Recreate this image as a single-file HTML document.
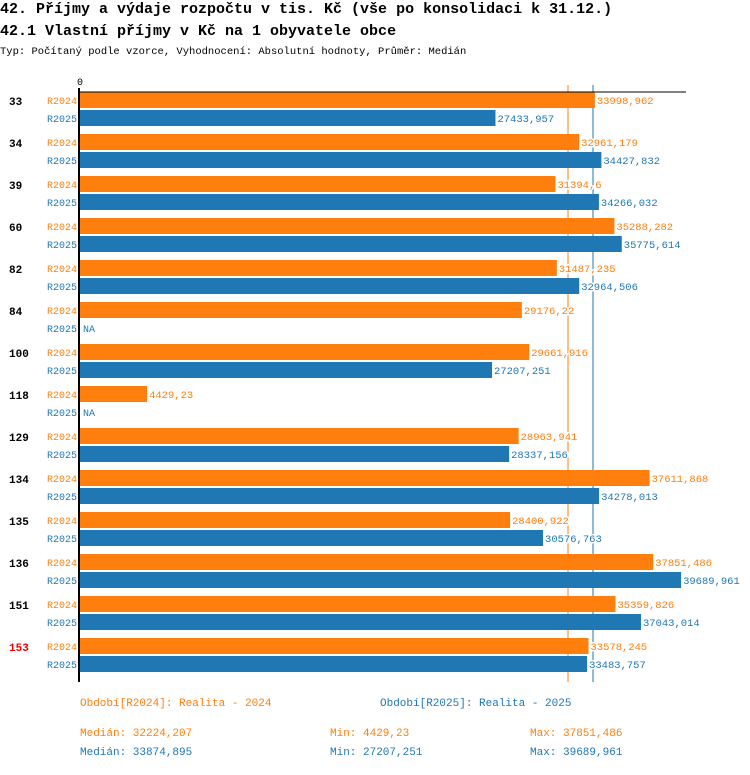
<!DOCTYPE html>
<html><head><meta charset="utf-8"><style>
body{margin:0;background:#fff;width:750px;height:770px;overflow:hidden;font-family:"Liberation Mono",monospace}
text{font-family:"Liberation Mono",monospace}
</style></head><body>
<svg id="chart" width="750" height="770" xmlns="http://www.w3.org/2000/svg">
<text x="0" y="13" font-size="15" font-weight="bold">42. Příjmy a výdaje rozpočtu v tis. Kč (vše po konsolidaci k 31.12.)</text>
<text x="0" y="35" font-size="15" font-weight="bold">42.1 Vlastní příjmy v Kč na 1 obyvatele obce</text>
<text x="0" y="54" font-size="10.5">Typ: Počítaný podle vzorce, Vyhodnocení: Absolutní hodnoty, Průměr: Medián</text>
<text x="77" y="85" font-size="10">0</text>
<g id="bars"></g>
<g id="footer" font-size="11">
<text x="80" y="706" fill="#ff7f0e">Období[R2024]: Realita - 2024</text>
<text x="380" y="706" fill="#1f77b4">Období[R2025]: Realita - 2025</text>
<text x="80" y="736" fill="#ff7f0e">Medián: 32224,207</text>
<text x="330" y="736" fill="#ff7f0e">Min: 4429,23</text>
<text x="530" y="736" fill="#ff7f0e">Max: 37851,486</text>
<text x="80" y="755" fill="#1f77b4">Medián: 33874,895</text>
<text x="330" y="755" fill="#1f77b4">Min: 27207,251</text>
<text x="530" y="755" fill="#1f77b4">Max: 39689,961</text>
</g>
</svg>
<script>
const categories=["33","34","39","60","82","84","100","118","129","134","135","136","151","153"];
const r2024=[33998.962,32961.179,31394.6,35288.282,31487.235,29176.22,29661.916,4429.23,28963.941,37611.868,28400.922,37851.486,35359.826,33578.245];
const r2025=[27433.957,34427.832,34266.032,35775.614,32964.506,null,27207.251,null,28337.156,34278.013,30576.763,39689.961,37043.014,33483.757];
const medians=[32224.207,33874.895];
const highlighted=["153"];
const NS="http://www.w3.org/2000/svg";
const x=v=>80+v*0.015144;
const g=document.getElementById('bars');
function mk(tag,attrs){const e=document.createElementNS(NS,tag);for(const k in attrs)e.setAttribute(k,attrs[k]);g.appendChild(e);return e;}
const fmt=v=>String(v).replace('.',',');
const series=[{vals:r2024,name:"R2024",col:"#ff7f0e"},{vals:r2025,name:"R2025",col:"#1f77b4"}];
medians.forEach((m,j)=>{
  const l=mk('line',{x1:x(m),x2:x(m),y1:85,y2:682,stroke:series[j].col,'stroke-width':1});
  
  
});
const labels=[];
categories.forEach((c,i)=>{
  const top=92+i*42;
  const t=mk('text',{x:9,y:top+13,'font-size':11,'font-weight':'bold',fill:highlighted.includes(c)?'#e00':'#000'});
  
  
  t.textContent=c;
  series.forEach((s,j)=>{
    const y=top+j*18;
    const lab=mk('text',{x:47,y:y+12,'font-size':10,fill:s.col});
    
    
    lab.textContent=s.name;
    const v=s.vals[i];
    if(v==null){
      const na=mk('text',{x:83,y:y+12,'font-size':10,fill:s.col});
      
      
      na.textContent='NA';
      return;
    }
    const r=mk('rect',{x:80,y:y,width:x(v)-80,height:16,fill:s.col});
    
    
    labels.push([x(v)+2,y+12,s.col,fmt(v)]);
  });
});
labels.forEach(([lx,ly,col,txt])=>{
  const vl=mk('text',{x:lx,y:ly,'font-size':10.5,fill:col,stroke:'#fff','stroke-width':3,'paint-order':'stroke'});
  
  
  vl.textContent=txt;
});
const ax=mk('line',{x1:79,x2:79,y1:88,y2:682,stroke:'#000','stroke-width':2});


const hx=mk('line',{x1:78,x2:686,y1:92,y2:92,stroke:'#000','stroke-width':1});


</script>
</body></html>
